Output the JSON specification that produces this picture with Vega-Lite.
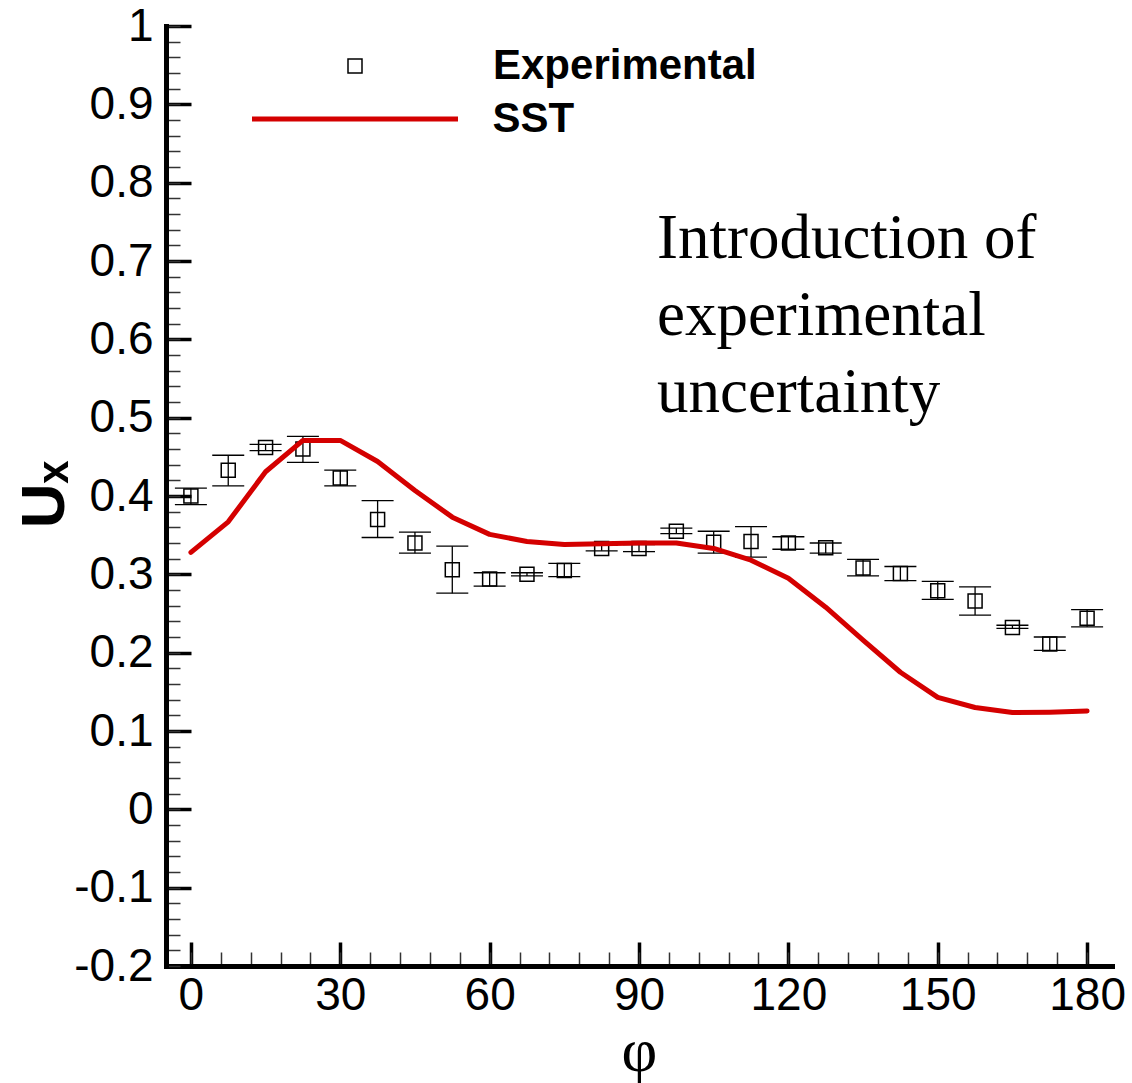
{
  "$schema": "https://vega.github.io/schema/vega-lite/v6.json",
  "width": 946,
  "height": 940,
  "autosize": "none",
  "padding": {"left": 166, "top": 26, "right": 20, "bottom": 117},
  "background": "white",
  "config": {
    "view": {"stroke": null},
    "font": "Liberation Sans",
    "axis": {
      "labelOverlap": false,
      "labelFlush": false,
      "labelFont": "Liberation Sans",
      "labelFontSize": 46,
      "labelColor": "black",
      "ticks": true,
      "tickSize": -14,
      "tickWidth": 1.5,
      "tickColor": "#333333",
      "grid": true,
      "gridColor": "black",
      "gridWidth": 3.5,
      "domainColor": "black",
      "domainWidth": 5,
      "domainCap": "square",
      "titleColor": "black"
    },
    "axisX": {
      "labelPadding": 21,
      "gridDash": [0, 916, 24, 1000],
      "titleFont": "Liberation Serif",
      "titleFontSize": 62,
      "titleFontWeight": "normal",
      "titleX": 473,
      "titleY": 104,
      "titleAlign": "center",
      "titleBaseline": "alphabetic"
    },
    "axisY": {
      "labelPadding": 27,
      "gridDash": [25, 2000],
      "titleFont": "Liberation Sans",
      "titleFontSize": 62,
      "titleFontWeight": "bold",
      "titleAngle": 270,
      "titleX": -103,
      "titleY": 468,
      "titleAlign": "center",
      "titleBaseline": "alphabetic"
    }
  },
  "datasets": {
    "experimental": [
      {"phi": 0, "u": 0.400, "lo": 0.389, "hi": 0.410, "series": "Experimental"},
      {"phi": 7.5, "u": 0.433, "lo": 0.413, "hi": 0.452, "series": "Experimental"},
      {"phi": 15, "u": 0.462, "lo": 0.458, "hi": 0.466, "series": "Experimental"},
      {"phi": 22.5, "u": 0.460, "lo": 0.443, "hi": 0.476, "series": "Experimental"},
      {"phi": 30, "u": 0.423, "lo": 0.413, "hi": 0.433, "series": "Experimental"},
      {"phi": 37.5, "u": 0.370, "lo": 0.347, "hi": 0.394, "series": "Experimental"},
      {"phi": 45, "u": 0.340, "lo": 0.327, "hi": 0.354, "series": "Experimental"},
      {"phi": 52.5, "u": 0.306, "lo": 0.276, "hi": 0.336, "series": "Experimental"},
      {"phi": 60, "u": 0.294, "lo": 0.285, "hi": 0.302, "series": "Experimental"},
      {"phi": 67.5, "u": 0.300, "lo": 0.298, "hi": 0.302, "series": "Experimental"},
      {"phi": 75, "u": 0.305, "lo": 0.297, "hi": 0.314, "series": "Experimental"},
      {"phi": 82.5, "u": 0.333, "lo": 0.330, "hi": 0.337, "series": "Experimental"},
      {"phi": 90, "u": 0.333, "lo": 0.329, "hi": 0.338, "series": "Experimental"},
      {"phi": 97.5, "u": 0.355, "lo": 0.352, "hi": 0.359, "series": "Experimental"},
      {"phi": 105, "u": 0.341, "lo": 0.327, "hi": 0.355, "series": "Experimental"},
      {"phi": 112.5, "u": 0.342, "lo": 0.322, "hi": 0.361, "series": "Experimental"},
      {"phi": 120, "u": 0.340, "lo": 0.332, "hi": 0.348, "series": "Experimental"},
      {"phi": 127.5, "u": 0.334, "lo": 0.327, "hi": 0.340, "series": "Experimental"},
      {"phi": 135, "u": 0.308, "lo": 0.298, "hi": 0.319, "series": "Experimental"},
      {"phi": 142.5, "u": 0.301, "lo": 0.292, "hi": 0.310, "series": "Experimental"},
      {"phi": 150, "u": 0.279, "lo": 0.268, "hi": 0.291, "series": "Experimental"},
      {"phi": 157.5, "u": 0.266, "lo": 0.248, "hi": 0.284, "series": "Experimental"},
      {"phi": 165, "u": 0.232, "lo": 0.231, "hi": 0.235, "series": "Experimental"},
      {"phi": 172.5, "u": 0.211, "lo": 0.203, "hi": 0.220, "series": "Experimental"},
      {"phi": 180, "u": 0.244, "lo": 0.233, "hi": 0.255, "series": "Experimental"}
    ],
    "sst": [
      {"phi": 0, "u": 0.328, "series": "SST"},
      {"phi": 7.5, "u": 0.367, "series": "SST"},
      {"phi": 15, "u": 0.431, "series": "SST"},
      {"phi": 22.5, "u": 0.471, "series": "SST"},
      {"phi": 30, "u": 0.471, "series": "SST"},
      {"phi": 37.5, "u": 0.444, "series": "SST"},
      {"phi": 45, "u": 0.407, "series": "SST"},
      {"phi": 52.5, "u": 0.373, "series": "SST"},
      {"phi": 60, "u": 0.351, "series": "SST"},
      {"phi": 67.5, "u": 0.342, "series": "SST"},
      {"phi": 75, "u": 0.338, "series": "SST"},
      {"phi": 82.5, "u": 0.339, "series": "SST"},
      {"phi": 90, "u": 0.340, "series": "SST"},
      {"phi": 97.5, "u": 0.340, "series": "SST"},
      {"phi": 105, "u": 0.333, "series": "SST"},
      {"phi": 112.5, "u": 0.318, "series": "SST"},
      {"phi": 120, "u": 0.295, "series": "SST"},
      {"phi": 127.5, "u": 0.258, "series": "SST"},
      {"phi": 135, "u": 0.216, "series": "SST"},
      {"phi": 142.5, "u": 0.175, "series": "SST"},
      {"phi": 150, "u": 0.143, "series": "SST"},
      {"phi": 157.5, "u": 0.130, "series": "SST"},
      {"phi": 165, "u": 0.1235, "series": "SST"},
      {"phi": 172.5, "u": 0.124, "series": "SST"},
      {"phi": 180, "u": 0.1255, "series": "SST"}
    ],
    "note": [
      {"note": "Introduction of\nexperimental\nuncertainty"}
    ]
  },
  "layer": [
    {
      "data": {"name": "experimental"},
      "mark": {"type": "rule", "color": "black", "strokeWidth": 1.3},
      "encoding": {
        "x": {"field": "phi", "type": "quantitative", "scale": {"domain": [-5, 185], "nice": false, "zero": false},
          "axis": {"title": "φ", "labelOverlap": false, "values": [0, 6, 12, 18, 24, 30, 36, 42, 48, 54, 60, 66, 72, 78, 84, 90, 96, 102, 108, 114, 120, 126, 132, 138, 144, 150, 156, 162, 168, 174, 180], "labelExpr": "datum.value % 30 === 0 ? toString(datum.value) : ''", "gridOpacity": {"condition": {"test": "datum.value % 30 === 0", "value": 1}, "value": 0}}},
        "y": {"field": "lo", "type": "quantitative", "scale": {"domain": [-0.2, 1], "nice": false, "zero": false},
          "axis": {"title": "Uₓ", "labelOverlap": false, "values": [-0.2, -0.18, -0.16, -0.14, -0.12, -0.1, -0.08, -0.06, -0.04, -0.02, 0, 0.02, 0.04, 0.06, 0.08, 0.1, 0.12, 0.14, 0.16, 0.18, 0.2, 0.22, 0.24, 0.26, 0.28, 0.3, 0.32, 0.34, 0.36, 0.38, 0.4, 0.42, 0.44, 0.46, 0.48, 0.5, 0.52, 0.54, 0.56, 0.58, 0.6, 0.62, 0.64, 0.66, 0.68, 0.7, 0.72, 0.74, 0.76, 0.78, 0.8, 0.82, 0.84, 0.86, 0.88, 0.9, 0.92, 0.94, 0.96, 0.98, 1], "labelExpr": "abs(datum.value * 10 - round(datum.value * 10)) < 1e-6 ? toString(round(datum.value * 10) / 10) : ''", "gridOpacity": {"condition": {"test": "abs(datum.value * 10 - round(datum.value * 10)) < 1e-6", "value": 1}, "value": 0}}},
        "y2": {"field": "hi"}
      }
    },
    {
      "data": {"name": "experimental"},
      "mark": {"type": "tick", "orient": "horizontal", "size": 32, "thickness": 1.3, "color": "black", "opacity": 1},
      "encoding": {
        "x": {"field": "phi", "type": "quantitative", "scale": {"domain": [-5, 185], "nice": false, "zero": false},
          "axis": {"title": "φ", "labelOverlap": false, "values": [0, 6, 12, 18, 24, 30, 36, 42, 48, 54, 60, 66, 72, 78, 84, 90, 96, 102, 108, 114, 120, 126, 132, 138, 144, 150, 156, 162, 168, 174, 180], "labelExpr": "datum.value % 30 === 0 ? toString(datum.value) : ''", "gridOpacity": {"condition": {"test": "datum.value % 30 === 0", "value": 1}, "value": 0}}},
        "y": {"field": "lo", "type": "quantitative", "scale": {"domain": [-0.2, 1], "nice": false, "zero": false},
          "axis": {"title": "Uₓ", "labelOverlap": false, "values": [-0.2, -0.18, -0.16, -0.14, -0.12, -0.1, -0.08, -0.06, -0.04, -0.02, 0, 0.02, 0.04, 0.06, 0.08, 0.1, 0.12, 0.14, 0.16, 0.18, 0.2, 0.22, 0.24, 0.26, 0.28, 0.3, 0.32, 0.34, 0.36, 0.38, 0.4, 0.42, 0.44, 0.46, 0.48, 0.5, 0.52, 0.54, 0.56, 0.58, 0.6, 0.62, 0.64, 0.66, 0.68, 0.7, 0.72, 0.74, 0.76, 0.78, 0.8, 0.82, 0.84, 0.86, 0.88, 0.9, 0.92, 0.94, 0.96, 0.98, 1], "labelExpr": "abs(datum.value * 10 - round(datum.value * 10)) < 1e-6 ? toString(round(datum.value * 10) / 10) : ''", "gridOpacity": {"condition": {"test": "abs(datum.value * 10 - round(datum.value * 10)) < 1e-6", "value": 1}, "value": 0}}}
      }
    },
    {
      "data": {"name": "experimental"},
      "mark": {"type": "tick", "orient": "horizontal", "size": 32, "thickness": 1.3, "color": "black", "opacity": 1},
      "encoding": {
        "x": {"field": "phi", "type": "quantitative", "scale": {"domain": [-5, 185], "nice": false, "zero": false},
          "axis": {"title": "φ", "labelOverlap": false, "values": [0, 6, 12, 18, 24, 30, 36, 42, 48, 54, 60, 66, 72, 78, 84, 90, 96, 102, 108, 114, 120, 126, 132, 138, 144, 150, 156, 162, 168, 174, 180], "labelExpr": "datum.value % 30 === 0 ? toString(datum.value) : ''", "gridOpacity": {"condition": {"test": "datum.value % 30 === 0", "value": 1}, "value": 0}}},
        "y": {"field": "hi", "type": "quantitative", "scale": {"domain": [-0.2, 1], "nice": false, "zero": false},
          "axis": {"title": "Uₓ", "labelOverlap": false, "values": [-0.2, -0.18, -0.16, -0.14, -0.12, -0.1, -0.08, -0.06, -0.04, -0.02, 0, 0.02, 0.04, 0.06, 0.08, 0.1, 0.12, 0.14, 0.16, 0.18, 0.2, 0.22, 0.24, 0.26, 0.28, 0.3, 0.32, 0.34, 0.36, 0.38, 0.4, 0.42, 0.44, 0.46, 0.48, 0.5, 0.52, 0.54, 0.56, 0.58, 0.6, 0.62, 0.64, 0.66, 0.68, 0.7, 0.72, 0.74, 0.76, 0.78, 0.8, 0.82, 0.84, 0.86, 0.88, 0.9, 0.92, 0.94, 0.96, 0.98, 1], "labelExpr": "abs(datum.value * 10 - round(datum.value * 10)) < 1e-6 ? toString(round(datum.value * 10) / 10) : ''", "gridOpacity": {"condition": {"test": "abs(datum.value * 10 - round(datum.value * 10)) < 1e-6", "value": 1}, "value": 0}}}
      }
    },
    {
      "data": {"name": "experimental"},
      "mark": {"type": "point", "shape": "square", "filled": false, "size": 196, "stroke": "black", "strokeWidth": 1.5, "opacity": 1},
      "encoding": {
        "x": {"field": "phi", "type": "quantitative", "scale": {"domain": [-5, 185], "nice": false, "zero": false},
          "axis": {"title": "φ", "labelOverlap": false, "values": [0, 6, 12, 18, 24, 30, 36, 42, 48, 54, 60, 66, 72, 78, 84, 90, 96, 102, 108, 114, 120, 126, 132, 138, 144, 150, 156, 162, 168, 174, 180], "labelExpr": "datum.value % 30 === 0 ? toString(datum.value) : ''", "gridOpacity": {"condition": {"test": "datum.value % 30 === 0", "value": 1}, "value": 0}}},
        "y": {"field": "u", "type": "quantitative", "scale": {"domain": [-0.2, 1], "nice": false, "zero": false},
          "axis": {"title": "Uₓ", "labelOverlap": false, "values": [-0.2, -0.18, -0.16, -0.14, -0.12, -0.1, -0.08, -0.06, -0.04, -0.02, 0, 0.02, 0.04, 0.06, 0.08, 0.1, 0.12, 0.14, 0.16, 0.18, 0.2, 0.22, 0.24, 0.26, 0.28, 0.3, 0.32, 0.34, 0.36, 0.38, 0.4, 0.42, 0.44, 0.46, 0.48, 0.5, 0.52, 0.54, 0.56, 0.58, 0.6, 0.62, 0.64, 0.66, 0.68, 0.7, 0.72, 0.74, 0.76, 0.78, 0.8, 0.82, 0.84, 0.86, 0.88, 0.9, 0.92, 0.94, 0.96, 0.98, 1], "labelExpr": "abs(datum.value * 10 - round(datum.value * 10)) < 1e-6 ? toString(round(datum.value * 10) / 10) : ''", "gridOpacity": {"condition": {"test": "abs(datum.value * 10 - round(datum.value * 10)) < 1e-6", "value": 1}, "value": 0}}},
        "shape": {
          "field": "series",
          "type": "nominal",
          "scale": {"domain": ["Experimental"], "range": ["square"]},
          "legend": {
            "title": null,
            "orient": "none",
            "legendX": 168,
            "legendY": 19,
            "padding": 0,
            "symbolSize": 196,
            "symbolStrokeWidth": 1.5,
            "symbolStrokeColor": "black",
            "symbolFillColor": "transparent",
            "labelFont": "Liberation Sans",
            "labelFontWeight": "bold",
            "labelFontSize": 42,
            "labelColor": "black",
            "labelLimit": 0,
            "labelOffset": 117
          }
        }
      }
    },
    {
      "data": {"name": "sst"},
      "mark": {"type": "line", "strokeWidth": 5, "strokeJoin": "round", "strokeCap": "round"},
      "encoding": {
        "x": {"field": "phi", "type": "quantitative", "scale": {"domain": [-5, 185], "nice": false, "zero": false},
          "axis": {"title": "φ", "labelOverlap": false, "values": [0, 6, 12, 18, 24, 30, 36, 42, 48, 54, 60, 66, 72, 78, 84, 90, 96, 102, 108, 114, 120, 126, 132, 138, 144, 150, 156, 162, 168, 174, 180], "labelExpr": "datum.value % 30 === 0 ? toString(datum.value) : ''", "gridOpacity": {"condition": {"test": "datum.value % 30 === 0", "value": 1}, "value": 0}}},
        "y": {"field": "u", "type": "quantitative", "scale": {"domain": [-0.2, 1], "nice": false, "zero": false},
          "axis": {"title": "Uₓ", "labelOverlap": false, "values": [-0.2, -0.18, -0.16, -0.14, -0.12, -0.1, -0.08, -0.06, -0.04, -0.02, 0, 0.02, 0.04, 0.06, 0.08, 0.1, 0.12, 0.14, 0.16, 0.18, 0.2, 0.22, 0.24, 0.26, 0.28, 0.3, 0.32, 0.34, 0.36, 0.38, 0.4, 0.42, 0.44, 0.46, 0.48, 0.5, 0.52, 0.54, 0.56, 0.58, 0.6, 0.62, 0.64, 0.66, 0.68, 0.7, 0.72, 0.74, 0.76, 0.78, 0.8, 0.82, 0.84, 0.86, 0.88, 0.9, 0.92, 0.94, 0.96, 0.98, 1], "labelExpr": "abs(datum.value * 10 - round(datum.value * 10)) < 1e-6 ? toString(round(datum.value * 10) / 10) : ''", "gridOpacity": {"condition": {"test": "abs(datum.value * 10 - round(datum.value * 10)) < 1e-6", "value": 1}, "value": 0}}},
        "color": {
          "field": "series",
          "type": "nominal",
          "scale": {"domain": ["SST"], "range": ["#d40000"]},
          "legend": {
            "title": null,
            "orient": "none",
            "legendX": 83.5,
            "legendY": -12.5,
            "padding": 0,
            "symbolType": "stroke",
            "symbolSize": 42436,
            "symbolStrokeWidth": 5,
            "labelFont": "Liberation Sans",
            "labelFontWeight": "bold",
            "labelFontSize": 42,
            "labelColor": "black",
            "labelLimit": 0,
            "labelOffset": 32
          }
        }
      }
    },
    {
      "data": {"name": "note"},
      "mark": {
        "type": "text",
        "font": "Liberation Serif",
        "fontSize": 63,
        "lineHeight": 77,
        "lineBreak": "\n",
        "align": "left",
        "baseline": "alphabetic",
        "color": "black"
      },
      "encoding": {
        "x": {"datum": 93.6, "type": "quantitative", "scale": {"domain": [-5, 185], "nice": false, "zero": false},
          "axis": {"title": "φ", "labelOverlap": false, "values": [0, 6, 12, 18, 24, 30, 36, 42, 48, 54, 60, 66, 72, 78, 84, 90, 96, 102, 108, 114, 120, 126, 132, 138, 144, 150, 156, 162, 168, 174, 180], "labelExpr": "datum.value % 30 === 0 ? toString(datum.value) : ''", "gridOpacity": {"condition": {"test": "datum.value % 30 === 0", "value": 1}, "value": 0}}},
        "y": {"datum": 0.7037, "type": "quantitative", "scale": {"domain": [-0.2, 1], "nice": false, "zero": false},
          "axis": {"title": "Uₓ", "labelOverlap": false, "values": [-0.2, -0.18, -0.16, -0.14, -0.12, -0.1, -0.08, -0.06, -0.04, -0.02, 0, 0.02, 0.04, 0.06, 0.08, 0.1, 0.12, 0.14, 0.16, 0.18, 0.2, 0.22, 0.24, 0.26, 0.28, 0.3, 0.32, 0.34, 0.36, 0.38, 0.4, 0.42, 0.44, 0.46, 0.48, 0.5, 0.52, 0.54, 0.56, 0.58, 0.6, 0.62, 0.64, 0.66, 0.68, 0.7, 0.72, 0.74, 0.76, 0.78, 0.8, 0.82, 0.84, 0.86, 0.88, 0.9, 0.92, 0.94, 0.96, 0.98, 1], "labelExpr": "abs(datum.value * 10 - round(datum.value * 10)) < 1e-6 ? toString(round(datum.value * 10) / 10) : ''", "gridOpacity": {"condition": {"test": "abs(datum.value * 10 - round(datum.value * 10)) < 1e-6", "value": 1}, "value": 0}}},
        "text": {"field": "note", "type": "nominal"}
      }
    }
  ]
}
